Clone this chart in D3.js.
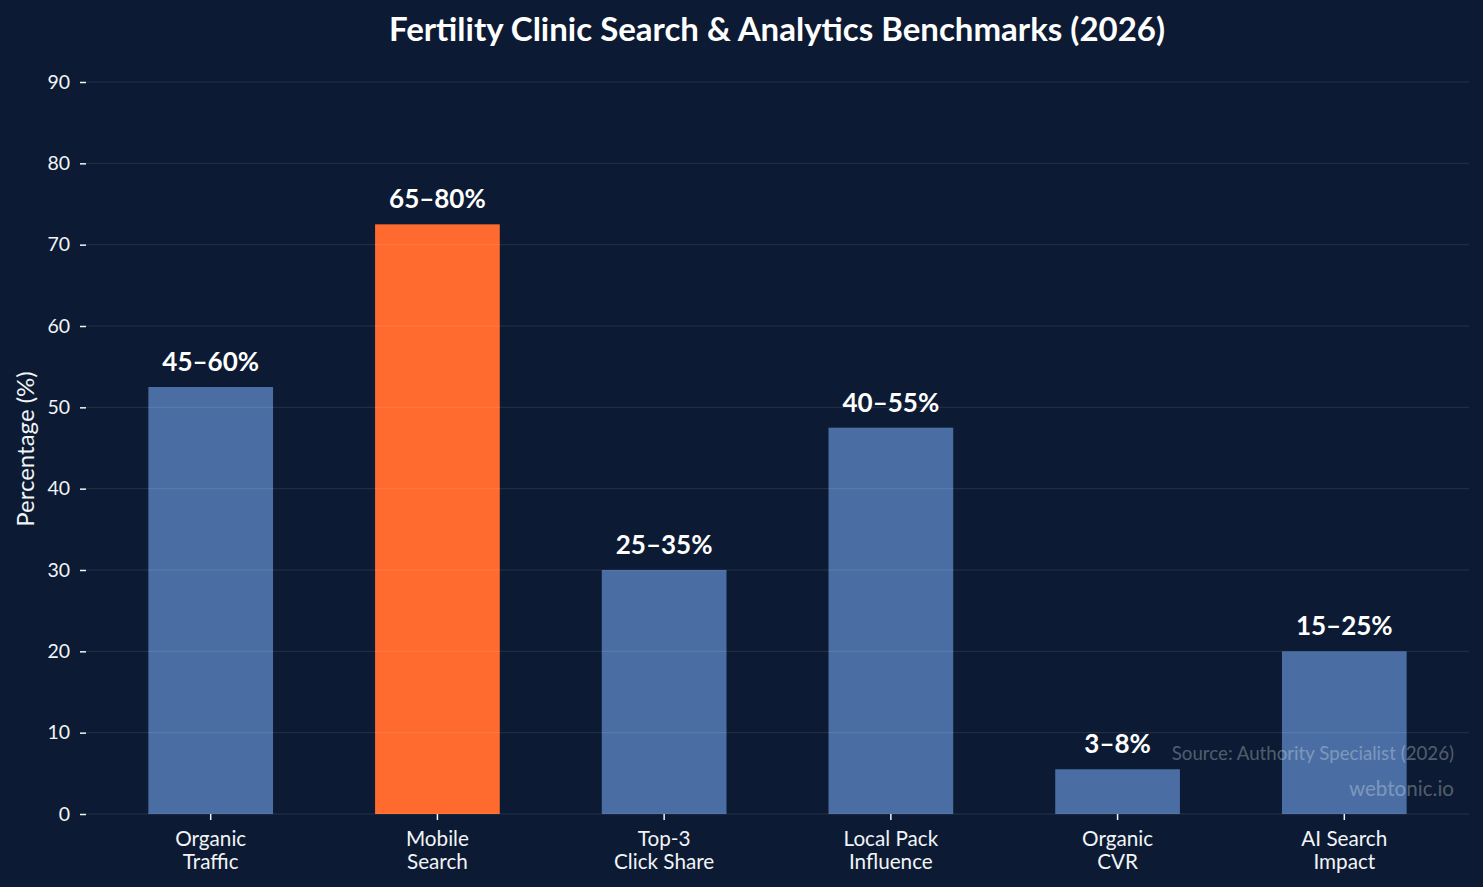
<!DOCTYPE html>
<html>
<head>
<meta charset="utf-8">
<script src="https://cdn.jsdelivr.net/npm/d3@7"></script>
<style>
  html, body { margin: 0; padding: 0; background: #0c1b33; }
  svg { display: block; font-family: Lato, "Open Sans", sans-serif; }
</style>
</head>
<body>
<div id="chart"></div>
<script>
// benchmark data
var categories = [["Organic", "Traffic"], ["Mobile", "Search"], ["Top-3", "Click Share"],
                  ["Local Pack", "Influence"], ["Organic", "CVR"], ["AI Search", "Impact"]];
var midpoints  = [52.5, 72.5, 30, 47.5, 5.5, 20];
var rangeLabels = ["45–60%", "65–80%", "25–35%", "40–55%", "3–8%", "15–25%"];
var highlight  = [false, true, false, false, false, false];
var yTicks     = [0, 10, 20, 30, 40, 50, 60, 70, 80, 90];

var W = 1483, H = 887;
var BG = "#0c1b33", BAR = "#4a6ea3", HOT = "#ff6b2e", INK = "#f2f4f7";

var svg = d3.select("#chart").append("svg").attr("width", W).attr("height", H);
svg.append("rect").attr("width", W).attr("height", H).attr("fill", BG);

var x = d3.scaleBand()
  .domain(d3.range(categories.length))
  .range([86, 1469])
  .paddingInner(0.45)
  .paddingOuter(0.275);

var y = d3.scaleLinear().domain([0, 90]).range([814, 82]);

// bars ──────────────────────────────────────────────
svg.append("g").selectAll("rect")
  .data(midpoints)
  .join("rect")
  .attr("x", function (d, i) { return x(i); })
  .attr("y", function (d) { return y(d); })
  .attr("width", x.bandwidth())
  .attr("height", function (d) { return y(0) - y(d); })
  .attr("fill", function (d, i) { return highlight[i] ? HOT : BAR; });

// grid sits over the bars, faint
svg.append("g").selectAll("line")
  .data(yTicks)
  .join("line")
  .attr("x1", 86).attr("x2", 1469)
  .attr("y1", function (d) { return y(d); })
  .attr("y2", function (d) { return y(d); })
  .attr("stroke", "#ffffff").attr("stroke-opacity", 0.1).attr("stroke-width", 1);

// y axis
var yAxis = svg.append("g")
  .attr("transform", "translate(86,0)")
  .call(d3.axisLeft(y).tickValues(yTicks).tickSize(6).tickPadding(10));
yAxis.select(".domain").remove();
yAxis.selectAll(".tick line").attr("stroke", INK).attr("stroke-width", 1.5);
yAxis.selectAll(".tick text")
  .attr("fill", INK).style("font-size", "19.5px").style("font-family", "Lato");

// x axis
var xAxis = svg.append("g")
  .attr("transform", "translate(0,814)")
  .call(d3.axisBottom(x).tickSize(6).tickFormat(""));
xAxis.select(".domain").remove();
xAxis.selectAll(".tick line").attr("stroke", INK).attr("stroke-width", 1.5);
xAxis.selectAll(".tick").each(function (d) {
  var t = d3.select(this).append("text")
    .attr("fill", INK).attr("text-anchor", "middle")
    .style("font-size", "20.7px").style("font-family", "Lato");
  categories[d].forEach(function (line, k) {
    t.append("tspan").attr("x", 0).attr("y", 32 + k * 23).text(line);
  });
});

// value labels
svg.append("g").selectAll("text")
  .data(midpoints)
  .join("text")
  .attr("x", function (d, i) { return x(i) + x.bandwidth() / 2; })
  .attr("y", function (d) { return y(d) - 16; })
  .attr("text-anchor", "middle")
  .attr("fill", "#ffffff")
  .style("font-size", "26px").style("font-weight", "bold")
  .text(function (d, i) { return rangeLabels[i]; });

// title + y label
svg.append("text")
  .attr("x", 777).attr("y", 41)
  .attr("text-anchor", "middle").attr("fill", "#ffffff")
  .style("font-size", "33px").style("font-weight", "bold")
  .text("Fertility Clinic Search & Analytics Benchmarks (2026)");

svg.append("text")
  .attr("transform", "translate(34,449) rotate(-90)")
  .attr("text-anchor", "middle").attr("fill", INK)
  .style("font-size", "24px")
  .text("Percentage (%)");

// source / watermark
svg.append("text")
  .attr("x", 1454).attr("y", 760)
  .attr("text-anchor", "end").attr("fill", "#ffffff").attr("fill-opacity", 0.3)
  .style("font-size", "18.7px")
  .text("Source: Authority Specialist (2026)");
svg.append("text")
  .attr("x", 1454).attr("y", 796)
  .attr("text-anchor", "end").attr("fill", "#ffffff").attr("fill-opacity", 0.3)
  .style("font-size", "20.6px")
  .text("webtonic.io");
</script>
</body>
</html>
